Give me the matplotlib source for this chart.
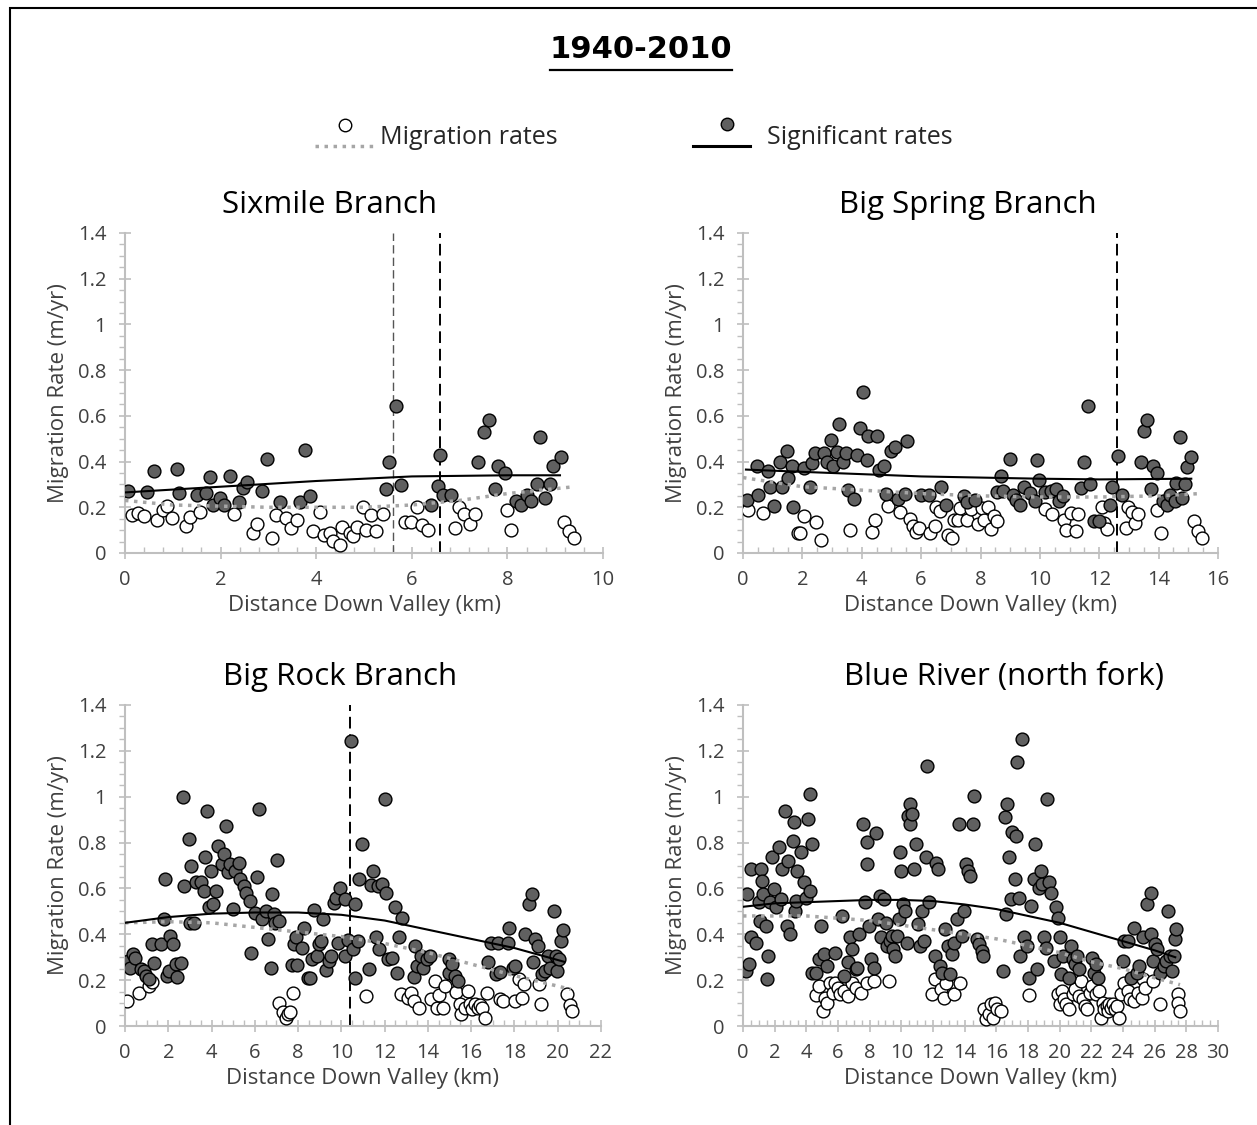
import numpy as np
import matplotlib
matplotlib.use("Agg")
import matplotlib.pyplot as plt
from matplotlib.ticker import MultipleLocator, AutoMinorLocator, FuncFormatter
from matplotlib.lines import Line2D
from matplotlib.patches import Rectangle

plt.rcParams["font.family"] = ["Open Sans", "DejaVu Sans"]

W, H = 1257, 1125

# ------------------------------------------------------------
# data
# ------------------------------------------------------------
# Sixmile Branch
six_sig_x = [0.06, 0.45, 0.6, 1.08, 1.14, 1.5, 1.7, 1.78, 1.84, 1.98, 2.07, 2.19, 2.38, 2.46, 2.55,
             2.86, 2.98, 3.25, 3.66, 3.76, 3.87, 5.46, 5.52, 5.67, 5.77, 6.41, 6.55, 6.6, 6.66, 6.83,
             7.39, 7.51, 7.61, 7.74, 7.8, 7.94, 8.19, 8.28, 8.4, 8.5, 8.61, 8.69, 8.79, 8.9, 8.96, 9.12]
six_sig_y = [0.27, 0.265, 0.357, 0.367, 0.262, 0.255, 0.262, 0.333, 0.21, 0.24, 0.21, 0.338, 0.222, 0.285, 0.31,
             0.27, 0.41, 0.222, 0.222, 0.452, 0.248, 0.28, 0.40, 0.642, 0.296, 0.21, 0.295, 0.43, 0.255, 0.255,
             0.40, 0.53, 0.58, 0.28, 0.38, 0.35, 0.226, 0.21, 0.255, 0.226, 0.303, 0.507, 0.24, 0.30, 0.38, 0.418]
six_ns_x = [0.14, 0.28, 0.39, 0.67, 0.8, 0.88, 0.99, 1.28, 1.35, 1.57, 2.27, 2.68, 2.77, 3.08, 3.16, 3.37,
            3.47, 3.59, 3.93, 4.07, 4.16, 4.28, 4.36, 4.49, 4.55, 4.7, 4.77, 4.85, 4.98, 5.05, 5.15, 5.26,
            5.39, 5.85, 5.98, 6.1, 6.22, 6.33, 6.91, 6.99, 7.09, 7.22, 7.32, 7.99, 8.07, 9.18, 9.29, 9.39]
six_ns_y = [0.168, 0.175, 0.16, 0.143, 0.19, 0.207, 0.153, 0.12, 0.156, 0.178, 0.17, 0.088, 0.128, 0.066, 0.168, 0.153,
            0.11, 0.143, 0.095, 0.178, 0.08, 0.088, 0.051, 0.036, 0.114, 0.088, 0.073, 0.114, 0.2, 0.1, 0.168, 0.095,
            0.172, 0.134, 0.134, 0.2, 0.124, 0.1, 0.11, 0.2, 0.172, 0.128, 0.172, 0.19, 0.1, 0.134, 0.095, 0.066]
six_fit_sig_x = [0.0, 2, 4, 6, 8, 9.1]
six_fit_sig_y = [0.265, 0.29, 0.315, 0.335, 0.34, 0.34]
six_fit_all_x = [0.0, 1, 3, 5, 6, 7, 8, 9.4]
six_fit_all_y = [0.23, 0.21, 0.20, 0.20, 0.21, 0.23, 0.26, 0.29]
six_vlines = [5.6, 6.6]

# Big Spring Branch
bsp_sig_x = [0.13, 0.47, 0.51, 0.84, 0.92, 1.05, 1.24, 1.3, 1.49, 1.53, 1.66, 1.68, 2.07, 2.26, 2.32, 2.42,
             2.73, 2.83, 2.96, 3.04, 3.15, 3.24, 3.37, 3.47, 3.53, 3.75, 3.83, 4.04, 3.95, 4.17, 4.21, 4.52,
             4.59, 4.74, 4.82, 4.97, 5.13, 5.23, 5.46, 5.54, 5.99, 6.28, 6.66, 6.85, 7.43, 7.53, 7.81, 8.57,
             8.7, 8.76, 8.98, 9.08, 9.21, 9.34, 9.46, 9.66, 9.82, 9.91, 9.97, 10.17, 10.36, 10.55, 10.64, 10.77,
             11.38, 11.48, 11.63, 11.7, 11.83, 11.99, 12.37, 12.42, 12.63, 12.78, 13.39, 13.52, 13.6, 13.73,
             13.8, 13.93, 14.16, 14.29, 14.38, 14.54, 14.57, 14.72, 14.8, 14.89, 14.95, 15.1]
bsp_sig_y = [0.233, 0.38, 0.255, 0.357, 0.29, 0.207, 0.40, 0.29, 0.445, 0.328, 0.38, 0.2, 0.372, 0.29, 0.394, 0.437,
             0.437, 0.397, 0.496, 0.38, 0.44, 0.566, 0.40, 0.437, 0.274, 0.236, 0.43, 0.703, 0.547, 0.405, 0.51, 0.51,
             0.362, 0.38, 0.26, 0.445, 0.464, 0.236, 0.26, 0.489, 0.255, 0.255, 0.29, 0.211, 0.248, 0.222, 0.233, 0.265,
             0.338, 0.27, 0.41, 0.255, 0.233, 0.211, 0.29, 0.262, 0.226, 0.405, 0.32, 0.265, 0.27, 0.28, 0.226, 0.25,
             0.284, 0.40, 0.642, 0.30, 0.139, 0.139, 0.211, 0.29, 0.426, 0.255, 0.40, 0.532, 0.58, 0.28,
             0.38, 0.35, 0.226, 0.211, 0.255, 0.226, 0.306, 0.507, 0.24, 0.30, 0.376, 0.42]
bsp_ns_x = [0.18, 0.69, 1.85, 1.91, 2.04, 2.47, 2.64, 3.6, 4.36, 4.43, 4.9, 5.29, 5.64, 5.74, 5.83, 5.92,
            6.3, 6.47, 6.5, 6.63, 6.91, 7.04, 7.1, 7.23, 7.3, 7.55, 7.68, 7.91, 8.04, 8.13, 8.25, 8.34,
            8.44, 8.57, 10.17, 10.42, 10.8, 10.87, 11.06, 11.22, 11.28, 12.08, 12.17, 12.27, 12.91, 12.97,
            13.1, 13.19, 13.32, 13.96, 14.08, 15.2, 15.33, 15.46]
bsp_ns_y = [0.19, 0.175, 0.088, 0.088, 0.163, 0.134, 0.058, 0.10, 0.09, 0.146, 0.204, 0.178, 0.149, 0.12, 0.09, 0.11,
            0.088, 0.117, 0.2, 0.182, 0.08, 0.066, 0.143, 0.143, 0.197, 0.146, 0.193, 0.128, 0.197, 0.146, 0.2, 0.105,
            0.16, 0.139, 0.193, 0.172, 0.146, 0.10, 0.175, 0.095, 0.172, 0.2, 0.131, 0.105, 0.11, 0.2,
            0.178, 0.131, 0.172, 0.19, 0.088, 0.139, 0.095, 0.066]
bsp_fit_sig_x = [0.1, 2, 4, 6, 8, 10, 12, 15.1]
bsp_fit_sig_y = [0.365, 0.355, 0.345, 0.335, 0.33, 0.325, 0.322, 0.325]
bsp_fit_all_x = [0.0, 2, 4, 6, 8, 10, 12, 14, 15.4]
bsp_fit_all_y = [0.33, 0.29, 0.275, 0.26, 0.25, 0.245, 0.245, 0.25, 0.26]
bsp_vlines = [12.6]

# Big Rock Branch
brk_sig_x = [0.14, 0.22, 0.39, 0.44, 0.73, 0.9, 0.99, 1.12, 1.24, 1.36, 1.67, 1.81, 1.87, 1.93, 2.04, 2.1,
             2.21, 2.35, 2.39, 2.61, 2.66, 2.73, 2.95, 3.0, 3.07, 3.17, 3.29, 3.51, 3.63, 3.68, 3.8, 3.88,
             3.97, 4.09, 4.19, 4.31, 4.48, 4.57, 4.65, 4.74, 4.87, 4.99, 5.08, 5.25, 5.33, 5.5, 5.59, 5.76,
             5.84, 6.01, 6.1, 6.18, 6.35, 6.52, 6.61, 6.75, 6.78, 6.87, 6.95, 7.04, 7.12, 7.72, 7.8, 7.89,
             7.97, 8.18, 8.28, 8.48, 8.57, 8.65, 8.74, 8.86, 8.96, 9.08, 9.17, 9.3, 9.42, 9.54, 9.64, 9.76,
             9.93, 9.85, 10.15, 10.19, 10.32, 10.44, 10.56, 10.61, 10.61, 10.78, 10.83, 10.95, 11.3, 11.47,
             11.38, 11.58, 11.69, 11.75, 11.89, 12.03, 12.06, 12.15, 12.33, 12.49, 12.57, 12.66, 12.78,
             13.34, 13.42, 13.51, 13.68, 13.76, 13.94, 14.1, 14.96, 14.99, 15.13, 15.26, 15.38, 16.8, 16.92,
             17.14, 17.26, 17.34, 17.68, 17.77, 17.94, 18.02, 18.5, 18.67, 18.79, 18.88, 18.96, 19.08, 19.25,
             19.42, 19.56, 19.64, 19.81, 19.9, 19.98, 20.07, 20.15, 20.24]
brk_sig_y = [0.284, 0.255, 0.313, 0.298, 0.247, 0.24, 0.218, 0.204, 0.357, 0.274, 0.357, 0.466, 0.64, 0.218, 0.24, 0.393,
             0.357, 0.269, 0.215, 0.274, 0.997, 0.611, 0.815, 0.451, 0.699, 0.451, 0.626, 0.626, 0.59, 0.735, 0.939, 0.517,
             0.677, 0.531, 0.59, 0.786, 0.706, 0.75, 0.873, 0.67, 0.706, 0.509, 0.677, 0.713, 0.64, 0.611, 0.582, 0.546,
             0.32, 0.495, 0.648, 0.946, 0.466, 0.502, 0.378, 0.255, 0.575, 0.488, 0.451, 0.725, 0.459, 0.265, 0.357, 0.386,
             0.265, 0.342, 0.429, 0.211, 0.211, 0.291, 0.507, 0.306, 0.357, 0.371, 0.466, 0.245, 0.284, 0.306, 0.536, 0.56,
             0.604, 0.364, 0.556, 0.306, 0.376, 1.245, 0.338, 0.531, 0.211, 0.371, 0.64, 0.793, 0.25, 0.677,
             0.614, 0.386, 0.611, 0.335, 0.619, 0.99, 0.582, 0.294, 0.298, 0.517, 0.233, 0.386, 0.469,
             0.215, 0.349, 0.262, 0.306, 0.255, 0.291, 0.306, 0.294, 0.233, 0.269, 0.218, 0.197, 0.279, 0.364,
             0.226, 0.364, 0.236, 0.364, 0.429, 0.255, 0.262, 0.40, 0.531, 0.575, 0.279, 0.378, 0.349, 0.226,
             0.24, 0.306, 0.255, 0.502, 0.306, 0.24, 0.291, 0.371, 0.419]
brk_ns_x = [0.1, 0.65, 1.12, 1.24, 7.12, 7.29, 7.43, 7.55, 7.63, 7.77, 11.12, 12.74, 13.08, 13.22, 13.34, 13.59,
            14.14, 14.31, 14.41, 14.53, 14.7, 14.79, 15.3, 15.47, 15.55, 15.72, 15.84, 15.95, 16.06, 16.18, 16.32,
            16.41, 16.49, 16.63, 16.75, 17.34, 17.48, 18.02, 18.19, 18.33, 18.45, 19.13, 19.22, 20.41, 20.58, 20.66]
brk_ns_y = [0.109, 0.146, 0.175, 0.192, 0.102, 0.061, 0.036, 0.051, 0.061, 0.146, 0.131, 0.138, 0.124, 0.146, 0.109, 0.08,
            0.119, 0.197, 0.08, 0.134, 0.08, 0.175, 0.148, 0.095, 0.051, 0.08, 0.153, 0.095, 0.073, 0.095, 0.08,
            0.09, 0.08, 0.036, 0.146, 0.116, 0.109, 0.109, 0.204, 0.124, 0.182, 0.182, 0.095, 0.138, 0.09, 0.066]
brk_fit_sig_x = [0.0, 2, 4, 6, 8, 10, 12, 14, 16, 18, 20.3]
brk_fit_sig_y = [0.45, 0.475, 0.49, 0.495, 0.495, 0.485, 0.46, 0.42, 0.38, 0.34, 0.28]
brk_fit_all_x = [0.0, 2, 4, 6, 8, 10, 12, 14, 16, 18, 20.6]
brk_fit_all_y = [0.45, 0.455, 0.45, 0.43, 0.41, 0.39, 0.36, 0.32, 0.27, 0.22, 0.16]
brk_vlines = [10.4]

# Blue River (north fork)
blu_sig_x = [0.17, 0.24, 0.41, 0.53, 0.53, 0.81, 1.0, 1.05, 1.12, 1.2, 1.29, 1.44, 1.53, 1.6, 1.72, 1.84,
             1.96, 2.08, 2.25, 2.39, 2.49, 2.68, 2.75, 2.87, 2.97, 3.16, 3.21, 3.28, 3.35, 3.44, 3.68, 3.83,
             4.0, 4.11, 4.23, 4.23, 4.35, 4.35, 4.59, 4.95, 4.83, 5.12, 5.31, 5.84, 6.27, 6.39, 6.63, 6.75,
             6.87, 7.11, 7.22, 7.34, 7.58, 7.7, 7.82, 7.82, 7.94, 8.06, 8.3, 8.42, 8.54, 8.66, 8.71, 8.9,
             9.02, 9.09, 9.26, 9.38, 9.5, 9.62, 9.74, 9.86, 9.9, 9.98, 10.1, 10.22, 10.33, 10.45, 10.53, 10.57,
             10.69, 10.81, 10.93, 11.05, 11.17, 11.29, 11.41, 11.53, 11.65, 11.77, 12.13, 12.2, 12.3, 12.44,
             12.54, 12.78, 12.97, 13.09, 13.21, 13.33, 13.49, 13.64, 13.8, 13.97, 14.11, 14.21, 14.35, 14.52,
             14.59, 14.76, 14.93, 15.07, 15.17, 16.44, 16.56, 16.6, 16.67, 16.79, 16.91, 16.99, 17.15, 17.22,
             17.32, 17.46, 17.51, 17.63, 17.75, 17.94, 18.04, 18.18, 18.35, 18.47, 18.59, 18.71, 18.83, 18.9,
             18.99, 19.14, 19.23, 19.31, 19.43, 19.67, 19.78, 19.9, 20.02, 20.1, 20.19, 20.62, 20.74, 20.86,
             20.98, 21.1, 21.22, 22.06, 22.18, 22.3, 22.42, 23.97, 24.09, 24.33, 24.5, 24.69, 24.88, 24.98,
             25.29, 25.53, 25.77, 25.89, 25.77, 26.0, 26.17, 26.36, 26.56, 26.72, 26.84, 26.96, 27.08, 27.2,
             27.27, 27.37]
blu_sig_y = [0.24, 0.575, 0.269, 0.684, 0.386, 0.364, 0.539, 0.459, 0.684, 0.633, 0.575, 0.437, 0.204, 0.306, 0.539, 0.735,
             0.597, 0.517, 0.779, 0.553, 0.684, 0.939, 0.437, 0.72, 0.4, 0.808, 0.888, 0.502, 0.546, 0.677, 0.757, 0.626,
             0.56, 0.902, 0.59, 1.012, 0.793, 0.233, 0.233, 0.437, 0.291, 0.313, 0.262, 0.32, 0.48, 0.218, 0.277, 0.386,
             0.335, 0.247, 0.255, 0.4, 0.881, 0.539, 0.801, 0.706, 0.437, 0.291, 0.255, 0.841, 0.466, 0.568, 0.386, 0.553,
             0.451, 0.349, 0.371, 0.393, 0.335, 0.306, 0.393, 0.466, 0.757, 0.677, 0.531, 0.502, 0.364, 0.917, 0.881, 0.968,
             0.924, 0.684, 0.793, 0.444, 0.349, 0.502, 0.371, 0.735, 1.135, 0.539, 0.306, 0.713, 0.684, 0.262,
             0.233, 0.422, 0.349, 0.226, 0.313, 0.364, 0.466, 0.881, 0.393, 0.502, 0.706, 0.677, 0.655, 0.881,
             1.004, 0.378, 0.357, 0.328, 0.306, 0.24, 0.91, 0.488, 0.968, 0.735, 0.553, 0.844, 0.643, 0.83,
             1.15, 0.56, 0.306, 1.252, 0.386, 0.349, 0.211, 0.524, 0.64, 0.793, 0.247, 0.604, 0.677, 0.619,
             0.386, 0.342, 0.99, 0.626, 0.582, 0.284, 0.517, 0.473, 0.386, 0.226, 0.306, 0.211, 0.349, 0.291,
             0.269, 0.306, 0.247, 0.298, 0.233, 0.269, 0.211, 0.284, 0.371, 0.371, 0.211, 0.429, 0.233, 0.262,
             0.386, 0.531, 0.582, 0.284, 0.4, 0.357, 0.335, 0.233, 0.262, 0.284, 0.502, 0.306, 0.24, 0.306,
             0.378, 0.422]
blu_ns_x = [4.59, 4.78, 5.07, 5.19, 5.31, 5.5, 5.67, 5.84, 6.03, 6.15, 6.39, 6.63, 6.87, 7.11, 7.46, 7.82,
            8.3, 9.19, 11.96, 12.13, 12.49, 12.68, 12.85, 13.33, 13.68, 15.24, 15.36, 15.55, 15.65, 15.79, 15.89,
            16.03, 16.32, 18.04, 19.9, 20.02, 20.14, 20.26, 20.38, 20.62, 20.86, 20.98, 21.22, 21.34, 21.46, 21.58,
            21.7, 21.94, 22.06, 22.3, 22.49, 22.58, 22.73, 22.82, 22.97, 23.06, 23.13, 23.25, 23.37, 23.49, 23.61,
            23.73, 23.85, 24.09, 24.33, 24.45, 24.69, 24.93, 25.17, 25.29, 25.41, 25.89, 26.32, 27.48, 27.48, 27.6]
blu_ns_y = [0.134, 0.175, 0.066, 0.124, 0.102, 0.189, 0.146, 0.189, 0.167, 0.138, 0.153, 0.131, 0.189, 0.167, 0.146, 0.189,
            0.197, 0.197, 0.138, 0.204, 0.16, 0.124, 0.189, 0.138, 0.189, 0.073, 0.029, 0.051, 0.095, 0.036, 0.102,
            0.073, 0.066, 0.134, 0.138, 0.095, 0.153, 0.116, 0.095, 0.073, 0.138, 0.16, 0.131, 0.197, 0.116, 0.087,
            0.073, 0.146, 0.175, 0.138, 0.153, 0.036, 0.102, 0.073, 0.087, 0.066, 0.095, 0.08, 0.095, 0.073, 0.087,
            0.036, 0.138, 0.189, 0.153, 0.116, 0.109, 0.146, 0.124, 0.204, 0.167, 0.197, 0.095, 0.138, 0.102, 0.066]
blu_fit_sig_x = [0.0, 2, 4, 6, 8, 10, 12, 14, 16, 18, 20, 22, 24, 26, 27.3]
blu_fit_sig_y = [0.52, 0.535, 0.54, 0.545, 0.55, 0.55, 0.545, 0.53, 0.51, 0.48, 0.45, 0.41, 0.37, 0.33, 0.30]
blu_fit_all_x = [0.0, 4, 6, 8, 10, 12, 14, 16, 18, 20, 22, 24, 26, 27.6]
blu_fit_all_y = [0.48, 0.48, 0.47, 0.46, 0.44, 0.42, 0.40, 0.38, 0.35, 0.32, 0.28, 0.25, 0.21, 0.18]
blu_vlines = []

panels = [
    ("Sixmile Branch", six_sig_x, six_sig_y, six_ns_x, six_ns_y,
     six_fit_sig_x, six_fit_sig_y, six_fit_all_x, six_fit_all_y, six_vlines, 10, 2, 5),
    ("Big Spring Branch", bsp_sig_x, bsp_sig_y, bsp_ns_x, bsp_ns_y,
     bsp_fit_sig_x, bsp_fit_sig_y, bsp_fit_all_x, bsp_fit_all_y, bsp_vlines, 16, 2, 4),
    ("Big Rock Branch", brk_sig_x, brk_sig_y, brk_ns_x, brk_ns_y,
     brk_fit_sig_x, brk_fit_sig_y, brk_fit_all_x, brk_fit_all_y, brk_vlines, 22, 2, 4),
    ("Blue River (north fork)", blu_sig_x, blu_sig_y, blu_ns_x, blu_ns_y,
     blu_fit_sig_x, blu_fit_sig_y, blu_fit_all_x, blu_fit_all_y, blu_vlines, 30, 2, 4),
]

# axes boxes in pixels: left, top, right, bottom
boxes = [(125, 233, 603, 553), (743, 233, 1218, 553),
         (125, 705, 601, 1026), (743, 705, 1218, 1026)]
title_cx = [330, 968, 340, 1004]

GRID = "#bfbfbf"
FILL = "#606060"
TXT = "#404040"

def fx(x):
    return x / W

def fy(y):
    return 1 - y / H

fig = plt.figure(figsize=(W / 100, H / 100), dpi=100)

for (name, sx, sy, nx, ny, fsx, fsy, fax, fay, vls, xmax, xmaj, xminor), box, tcx in zip(panels, boxes, title_cx):
    l, t, r, b = box
    ax = fig.add_axes([fx(l), fy(b), (r - l) / W, (b - t) / H])
    for v in vls:
        thin = len(vls) > 1 and v == vls[0]
        ax.plot([v, v], [0, 1.4], color="#555555" if thin else "black",
                lw=1.0 if thin else 1.4, ls=(0, (6, 3)), zorder=2)
    ax.scatter(nx, ny, s=85, facecolor="white", edgecolor="black", linewidth=1.0, zorder=3)
    ax.scatter(sx, sy, s=85, facecolor=FILL, edgecolor="black", linewidth=1.0, zorder=4)
    ax.plot(fax, fay, color="#a6a6a6", lw=2.5, ls=(0, (1, 1.6)), zorder=5)
    ax.plot(fsx, fsy, color="black", lw=1.5, zorder=6)

    ax.set_xlim(0, xmax)
    ax.set_ylim(0, 1.4)
    ax.xaxis.set_major_locator(MultipleLocator(xmaj))
    ax.xaxis.set_minor_locator(AutoMinorLocator(xminor))
    ax.yaxis.set_major_locator(MultipleLocator(0.2))
    ax.yaxis.set_minor_locator(AutoMinorLocator(4))
    ax.yaxis.set_major_formatter(FuncFormatter(lambda v, p: f"{v:g}"))
    ax.xaxis.set_major_formatter(FuncFormatter(lambda v, p: f"{v:g}"))
    for s in ["top", "right"]:
        ax.spines[s].set_visible(False)
    for s in ["left", "bottom"]:
        ax.spines[s].set_color(GRID)
        ax.spines[s].set_linewidth(1.5)
    ax.tick_params(which="major", direction="inout", length=9, width=1.2, color=GRID,
                   labelsize=14.5, labelcolor=TXT)
    ax.tick_params(axis="y", which="major", pad=9)
    ax.tick_params(axis="x", which="major", pad=8)
    ax.tick_params(axis="x", which="minor", direction="in", length=4, width=1.0, color=GRID)
    ax.tick_params(axis="y", which="minor", direction="out", length=4, width=1.0, color=GRID)
    ax.set_xlabel("Distance Down Valley (km)", fontsize=16, color=TXT, labelpad=3)
    ax.set_ylabel("Migration Rate (m/yr)", fontsize=16, color=TXT, labelpad=6)
    ax.patch.set_alpha(0)
    fig.text(fx(tcx), fy(t - 28), name, ha="center", va="center", fontsize=22.5, color="black")

# main title with underline
ttl = fig.text(fx(641), fy(50), "1940-2010", ha="center", va="center",
               fontsize=22, fontweight="bold", family=["DejaVu Sans"], color="black")
fig.canvas.draw()
bb = ttl.get_window_extent()
fig.add_artist(Line2D([bb.x0 / W, bb.x1 / W], [fy(70), fy(70)], color="black", lw=1.6,
                      transform=fig.transFigure))

# legend
fig.add_artist(Line2D([fx(315), fx(375)], [fy(146), fy(146)], color="#a6a6a6", lw=2.5,
                      ls=(0, (1, 1.6)), transform=fig.transFigure))
fig.add_artist(Line2D([fx(345)], [fy(125)], marker="o", ms=9, mfc="white", mec="black",
                      mew=1.0, ls="none", transform=fig.transFigure))
fig.text(fx(380), fy(137), "Migration rates", ha="left", va="center", fontsize=18, color="#262626")
fig.add_artist(Line2D([fx(693), fx(750)], [fy(146), fy(146)], color="black", lw=2.2,
                      transform=fig.transFigure))
fig.add_artist(Line2D([fx(727)], [fy(124)], marker="o", ms=9, mfc=FILL, mec="black",
                      mew=1.0, ls="none", transform=fig.transFigure))
fig.text(fx(767), fy(137), "Significant rates", ha="left", va="center", fontsize=18, color="#262626")

# outer frame
fig.add_artist(Rectangle((fx(10), fy(1140)), (1270 - 10) / W, (1140 - 8) / H, fill=False,
                         edgecolor="black", lw=1.5, transform=fig.transFigure))

fig.savefig("out.png", dpi=100)
